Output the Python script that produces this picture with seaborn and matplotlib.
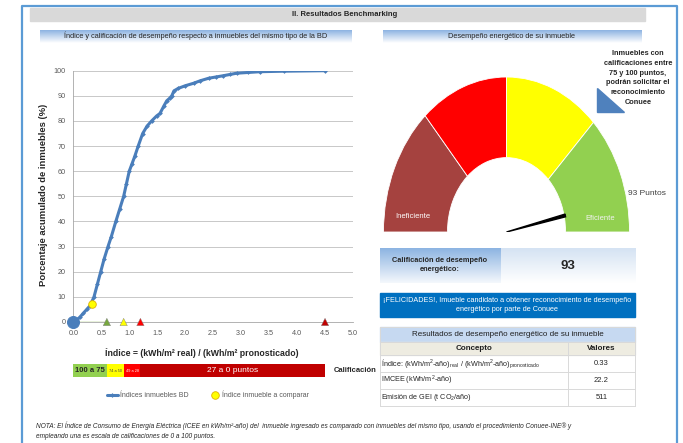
import numpy as np
import matplotlib
matplotlib.use('Agg')
import matplotlib.pyplot as plt
from matplotlib.patches import Polygon, Rectangle
from matplotlib.colors import LinearSegmentedColormap
import seaborn as sns

# curva acumulada de indices de la BD
indice_bd = [0.0, 0.05, 0.12, 0.18, 0.24, 0.30, 0.37, 0.43, 0.49, 0.55, 0.62, 0.68,
             0.76, 0.83, 0.90, 0.95, 1.00, 1.05, 1.10, 1.16, 1.24, 1.32, 1.40, 1.49,
             1.55, 1.62, 1.67, 1.72, 1.76, 1.80, 1.88, 2.00, 2.15, 2.27, 2.42, 2.55,
             2.68, 2.80, 2.92, 3.13, 3.34, 3.76, 4.50]
pct_bd = [0.0, 0.5, 2, 3.5, 5, 6.5, 10, 15, 20, 25, 30, 34,
          40, 45, 50, 55, 60, 63, 66, 70, 75, 78, 80, 82,
          83, 86, 88, 89, 90, 92, 93, 94, 95, 96, 97, 97.5,
          98, 98.5, 99, 99.3, 99.6, 99.8, 100]

# inmueble a comparar
indice_inmueble = [0.33]
pct_inmueble = [7]

# limites de calificacion sobre el eje
limites_x = [0.6, 0.9, 1.2, 4.5]
limites_nombre = ['75', '50', '28', '0']
limites_color = ['#77A83E', '#FFFF00', '#FF0000', '#C00000']

# barra de calificacion
cal_inicio = [0, 0.6, 0.9, 1.2]
cal_ancho = [0.6, 0.3, 0.3, 3.3]
cal_textos = ['100 a 75', '74 a 50', '49 a 28', '27 a 0 puntos']
cal_colores = ['#92D050', '#FFFF00', '#FF0000', '#C00000']

# velocimetro
rangos = [27, 23, 25, 25]
rangos_color = ['#A5423F', '#FF0000', '#FFFF00', '#92D050']
calificacion = 93

# tabla de resultados
conceptos = [r'Índice: (kWh/m$^{\mathregular{2}}$-año)$_{\mathregular{real}}$ / (kWh/m$^{\mathregular{2}}$-año)$_{\mathregular{pronosticado}}$',
             r'IMCEE (kWh/m$^{\mathregular{2}}$-año)',
             r'Emisión de GEI (t CO$_{\mathregular{2}}$/año)']
valores = ['0.33', '22.2', '511']

W, H = 683, 443
azul = '#4A7EBB'

sns.set_style('white')
plt.rcParams['font.family'] = ['Liberation Sans Narrow', 'Liberation Sans', 'DejaVu Sans']
plt.rcParams['mathtext.fontset'] = 'custom'

fig = plt.figure(figsize=(W / 100, H / 100), dpi=100)


def px(x0, y0, x1, y1):
    return [x0 / W, 1 - y1 / H, (x1 - x0) / W, (y1 - y0) / H]


# fondo en pixeles para cajas y textos
bg = fig.add_axes([0, 0, 1, 1])
bg.axis('off')
grad = np.linspace(0, 1, 64).reshape(-1, 1)


def caja_grad(x0, y0, x1, y1, arriba, abajo):
    cm = LinearSegmentedColormap.from_list('g', [arriba, abajo])
    bg.imshow(grad, cmap=cm, extent=(x0, x1, y1, y0), aspect='auto', zorder=1)


# borde azul y encabezados
bg.plot([22, 22, 677, 677], [445, 6, 6, 445], color='#5B9BD5', lw=1.6, zorder=3)
bg.add_patch(Rectangle((30, 8), 615, 13, color='#D9D9D9', zorder=1))
bg.text(345, 14.5, 'II. Resultados Benchmarking', ha='center', va='center',
        fontsize=5.5, fontweight='bold', color='#262626', zorder=4)
caja_grad(40, 30, 352, 43, '#8DB3E2', '#FFFFFF')
caja_grad(383, 30, 642, 43, '#8DB3E2', '#FFFFFF')
bg.text(196, 36, 'Índice y calificación de desempeño respecto a inmuebles del mismo tipo de la BD',
        ha='center', va='center', fontsize=5.3, color='#262626', zorder=4)
bg.text(512, 36, 'Desempeño energético de su inmueble', ha='center', va='center',
        fontsize=5.3, color='#262626', zorder=4)

# grafica acumulada
ax = fig.add_axes(px(73.3, 70.7, 353, 322))
ax.set_facecolor('none')
sns.lineplot(x=indice_bd, y=pct_bd, ax=ax, color=azul, lw=2.2, marker='D',
             markersize=2.4, markeredgewidth=0, sort=False, estimator=None,
             label='Índices inmuebles BD')
ax.plot([0, limites_x[0]], [0, 0], color='#8DB84A', lw=1, zorder=3)
sns.scatterplot(x=[0], y=[0], ax=ax, s=75, color=azul, edgecolor=azul,
                clip_on=False, zorder=5, legend=False)
sns.scatterplot(x=limites_x, y=[0] * len(limites_x), hue=limites_nombre,
                palette=limites_color, marker='^', s=28, edgecolor='#7F7F7F',
                linewidth=0.3, ax=ax, clip_on=False, zorder=5, legend=False)
sns.scatterplot(x=indice_inmueble, y=pct_inmueble, ax=ax, s=30, color='#FFFF00',
                edgecolor='#E0B000', linewidth=0.6, zorder=6,
                label='Índice inmueble a comparar')
ax.set_xlim(0, 5)
ax.set_ylim(0, 100)
xt = np.arange(0, 5.01, 0.5)
ax.set_xticks(xt)
ax.set_xticklabels([f'{t:.1f}' for t in xt])
ax.set_yticks(range(0, 101, 10))
ax.grid(axis='y', color='#BFBFBF', lw=0.6)
ax.set_axisbelow(True)
sns.despine(ax=ax)
for s in ['left', 'bottom']:
    ax.spines[s].set_color('#A6A6A6')
    ax.spines[s].set_linewidth(0.6)
ax.tick_params(labelsize=5.2, colors='#595959', length=2.5, width=0.5, pad=3)
ax.set_xlabel('')
ax.set_ylabel('')
h, l = ax.get_legend_handles_labels()
ax.legend(h, l, loc='center', bbox_to_anchor=(208 / W, 1 - 395 / H),
          bbox_transform=fig.transFigure, ncol=2, frameon=False, fontsize=5,
          handlelength=1.6, columnspacing=3, labelcolor='#595959', handletextpad=0.3)

bg.text(44, 195, 'Porcentaje acumulado de inmuebles (%)', rotation=90, ha='center',
        va='center', fontsize=6.8, fontweight='bold', color='#262626',
        family=['Liberation Sans', 'DejaVu Sans'])
bg.text(202, 352.5, 'Índice = (kWh/m² real) / (kWh/m² pronosticado)', ha='center',
        va='center', fontsize=6.3, fontweight='bold', color='#262626')

# barra de calificacion
axc = fig.add_axes(px(73.3, 364, 353, 377))
axc.barh([0.5] * len(cal_inicio), cal_ancho, left=cal_inicio, height=1,
         color=cal_colores, edgecolor='none')
tam = [5.5, 2.8, 2.8, 6]
col = ['#262626', '#404040', 'white', 'white']
for x0, w, t, fs, c in zip(cal_inicio, cal_ancho, cal_textos, tam, col):
    axc.text(x0 + w / 2, 0.5, t, ha='center', va='center', fontsize=fs, color=c,
             fontweight='bold' if fs > 5 and c != 'white' else 'normal')
axc.text(4.66, 0.5, 'Calificación', ha='left', va='center', fontsize=5.5,
         fontweight='bold', color='#262626', clip_on=False)
axc.set_xlim(0, 5)
axc.set_ylim(0, 1)
axc.axis('off')

# velocimetro
axg = fig.add_axes(px(383.5, 77, 629.5, 232))
cunas, _ = axg.pie(rangos + [sum(rangos)], colors=rangos_color + ['none'], startangle=180,
                   counterclock=False, radius=1,
                   wedgeprops=dict(width=0.52, edgecolor='white', linewidth=0.6))
cunas[-1].set_visible(False)
ang = np.deg2rad(180 - calificacion / 100 * 180)
r = 0.49
tip = np.array([np.cos(ang), np.sin(ang)]) * r
perp = np.array([-np.sin(ang), np.cos(ang)]) * 0.009
axg.add_patch(Polygon([(0, 0), tip + perp, tip - perp], color='black', zorder=5))
axg.text(-0.76, 0.10, 'Ineficiente', ha='center', va='center', fontsize=5.5, color='white')
axg.text(0.76, 0.09, 'Eficiente', ha='center', va='center', fontsize=5.5, color='#F2F2F2')
axg.set_xlim(-1, 1)
axg.set_ylim(0, 1)
axg.set_aspect('auto')
axg.axis('off')

bg.text(628, 193, f'{calificacion} Puntos', ha='left', va='center', fontsize=6,
        color='#404040', zorder=4)
bg.text(638, 78, 'Inmuebles con\ncalificaciones entre\n75 y 100 puntos,\npodrán solicitar el\nreconocimiento\nConuee',
        ha='center', va='center', fontsize=5.3, fontweight='bold', color='#262626',
        linespacing=1.55, zorder=4)
bg.add_patch(Polygon([(597, 88), (597, 112), (624, 112)], color='#4F81BD', zorder=3))

# caja de calificacion
caja_grad(380, 248, 500.7, 283, '#8DB4E2', '#F4F8FC')
caja_grad(500.7, 248, 635, 283, '#D5E3F3', '#FFFFFF')
bg.text(440, 265, 'Calificación de desempeño\nenergético:', ha='center', va='center',
        fontsize=5.3, fontweight='bold', color='#262626', linespacing=1.5, zorder=4,
        family=['Liberation Sans', 'DejaVu Sans'])
bg.text(568, 266, str(calificacion), ha='center', va='center', fontsize=9.5,
        fontweight='bold', color='#262626', zorder=4,
        family=['Liberation Sans', 'DejaVu Sans'])

# aviso
bg.add_patch(Rectangle((380, 293), 255, 24, color='#0070C0', zorder=1))
bg.text(507.5, 305, '¡FELICIDADES!, Imueble candidato a obtener reconocimiento de desempeño\nenergético por parte de Conuee',
        ha='center', va='center', fontsize=5.2, color='white', linespacing=1.5, zorder=4,
        family=['Liberation Sans', 'DejaVu Sans'])

# tabla
fam = ['Liberation Sans', 'DejaVu Sans']
bg.add_patch(Rectangle((380, 327), 255, 15, color='#C6D9F1', zorder=1))
bg.add_patch(Rectangle((380, 342), 255, 13, color='#EEECE1', zorder=1))
bg.text(507.5, 334.5, 'Resultados de desempeño energético de su inmueble', ha='center',
        va='center', fontsize=5.8, color='#1F1F1F', zorder=4, family=fam)
bg.text(474, 348.5, 'Concepto', ha='center', va='center', fontsize=5.8,
        fontweight='bold', color='#1F1F1F', zorder=4, family=fam)
bg.text(601.5, 348.5, 'Valores', ha='center', va='center', fontsize=5.8,
        fontweight='bold', color='#1F1F1F', zorder=4, family=fam)
filas_y = [355, 372.3, 389.3, 406]
for i, (c, v) in enumerate(zip(conceptos, valores)):
    ym = (filas_y[i] + filas_y[i + 1]) / 2
    bg.text(381, ym, c, ha='left', va='center', fontsize=5.2, color='#262626',
            zorder=4, family=fam)
    bg.text(601.5, ym, v, ha='center', va='center', fontsize=5.5, color='#262626',
            zorder=4, family=fam)
for yy in [327, 342] + filas_y:
    bg.plot([380, 635], [yy, yy], color='#D9D9D9', lw=0.7, zorder=2)
bg.plot([380, 380], [327, 406], color='#D9D9D9', lw=0.7, zorder=2)
bg.plot([635, 635], [327, 406], color='#D9D9D9', lw=0.7, zorder=2)
bg.plot([568.3, 568.3], [342, 406], color='#D9D9D9', lw=0.7, zorder=2)

# nota
bg.text(36, 426, 'NOTA: El Índice de Consumo de Energía Eléctrica (ICEE en kWh/m²-año) del  inmueble ingresado es comparado con inmuebles del mismo tipo, usando el procedimiento Conuee-INE® y',
        ha='left', va='center', fontsize=4.7, style='italic', color='#262626',
        family=fam, zorder=4)
bg.text(36, 437, 'empleando una es escala de calificaciones de 0 a 100 puntos.',
        ha='left', va='center', fontsize=4.7, style='italic', color='#262626',
        family=fam, zorder=4)

bg.set_xlim(0, W)
bg.set_ylim(H, 0)

fig.savefig('out.png', dpi=100)
